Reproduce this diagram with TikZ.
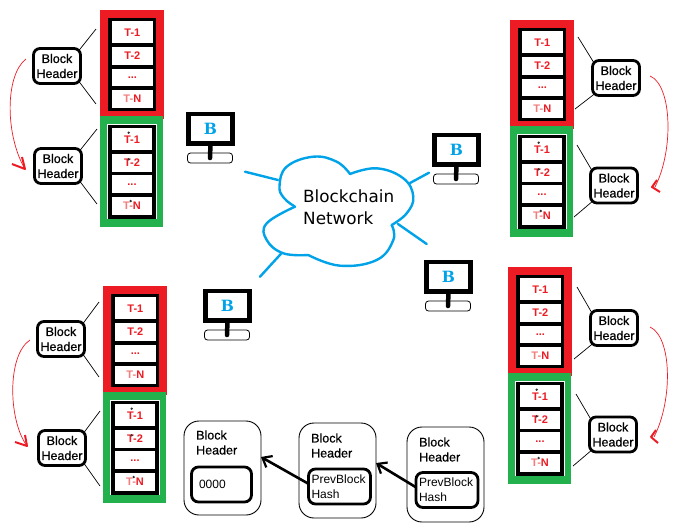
\documentclass[tikz,border=0pt]{standalone}
\usepackage{fontspec}
\setmainfont{Liberation Sans}
\newfontfamily\cloudfont{DejaVu Sans}
\newfontfamily\monfont{DejaVu Serif}
\newfontfamily\hdrfont[FakeBold=0.6]{Liberation Sans}
\usetikzlibrary{arrows.meta}
\definecolor{pred}{HTML}{ED1C24}
\definecolor{pgreen}{HTML}{22B14C}
\definecolor{pblue}{HTML}{00A2E8}
\definecolor{tpink}{HTML}{F47C7C}
\tikzset{
  rowbox/.style={draw=black,line width=3.2pt,fill=white,inner sep=0pt,outer sep=0pt,text=pred,font=\fontsize{11}{12}\selectfont\bfseries},
  hdr/.style={draw=black,line width=2.8pt,fill=white,rounded corners=6.5pt,minimum width=47pt,minimum height=35pt,inner sep=0pt,outer sep=0pt,align=center,font=\hdrfont\fontsize{12.5}{15}\selectfont},
  link/.style={black,line width=.7pt,shorten >=-2.5pt},
  hop/.style={pred,line width=.7pt},
  hopmark/.style={pred,line width=2pt,line join=round},
  dotmark/.style={fill=black!80,inner sep=0pt,minimum size=2.6pt,circle},
  screen/.style={draw=black,line width=4.5pt,fill=white,minimum width=44pt,minimum height=29.5pt,inner sep=0pt,outer sep=0pt,text=pblue,font=\monfont\fontsize{15.5}{16}\selectfont\bfseries},
  monbase/.style={draw=black,line width=.8pt,fill=white,rounded corners=3pt,minimum width=45pt,minimum height=10pt,inner sep=0pt,outer sep=0pt},
  monstand/.style={black,line width=4.5pt,line cap=round},
  cloudline/.style={pblue,line width=2.4pt,line join=round,line cap=round},
  outerbox/.style={draw=black,line width=.9pt,rounded corners=15pt,inner sep=0pt,outer sep=0pt},
  innerbox/.style={draw=black,line width=2.8pt,rounded corners=7pt,inner sep=0pt,outer sep=0pt,align=left,font=\fontsize{12}{15}\selectfont},
  boxtitle/.style={anchor=west,inner sep=0pt,align=left,font=\hdrfont\fontsize{12.5}{15}\selectfont},
  chainarrow/.style={black,line width=2.6pt,-{Straight Barb[length=8pt,width=13pt,line width=2.2pt]}},
}
\newcommand{\chainstack}[3]{%
  \begin{scope}[shift={(#2,#3)}]
    \fill[pred] (0,0) rectangle (64,109);
    \fill[pgreen] (0,106) rectangle (63,217);
    \node[rowbox,minimum width=44.7pt,minimum height=25.5pt] (#1a1) at (32.35,22.25) {T-1};
    \node[rowbox,minimum width=44.7pt,minimum height=22pt] (#1a2) at (32.35,46) {T-2};
    \node[rowbox,minimum width=44.7pt,minimum height=21pt] (#1a3) at (32.35,67.5) {...};
    \node[rowbox,minimum width=44.7pt,minimum height=21.5pt] (#1a4) at (32.35,88.75) {{\color{tpink}T-}N};
    \draw[white,line width=.9pt] (7.8,114.3) rectangle (56,208.7);
    \node[rowbox,minimum width=44pt,minimum height=25.5pt] (#1b1) at (32,129.25) {T-1};
    \node[rowbox,minimum width=44pt,minimum height=21.5pt] (#1b2) at (32,152.75) {T-2};
    \node[rowbox,minimum width=44pt,minimum height=21.5pt] (#1b3) at (32,174.25) {...};
    \node[rowbox,minimum width=44pt,minimum height=22pt] (#1b4) at (32,196) {{\color{tpink}T-}N};
    \node[dotmark] (#1d1) at (28.7,122.7) {};
    \node[dotmark] (#1d2) at (28.7,149.3) {};
    \node[dotmark] (#1d3) at (30.7,191) {};
  \end{scope}}
\newcommand{\computer}[3]{%
  \node[monbase] (#1base) at (#2+24,#3+46) {};
  \node[screen] (#1) at (#2+24.5,#3+16.8) {B};
  \draw[monstand] (#1.south) -- (#1base.center);}
\begin{document}
\begin{tikzpicture}[x=1pt,y=-1pt]
\useasboundingbox (0,0) rectangle (682,528);
% top left
\chainstack{tl}{100}{10}
\node[hdr] (tlh1) at (57,66) {Block\\Header};
\node[hdr] (tlh2) at (58,166) {Block\\Header};
\coordinate (tlp1) at (96,29); \coordinate (tlp2) at (96,104);
\coordinate (tlp3) at (97,129); \coordinate (tlp4) at (97,204);
\draw[link] (tlp1) -- (tlh1.north east);
\draw[link] (tlp2) -- (tlh1.south east);
\draw[link] (tlp3) -- (tlh2.north east);
\draw[link] (tlp4) -- (tlh2.south east);
\coordinate (tla) at (26,59); \coordinate (tlb) at (25,169);
\draw[hop] (tla) .. controls (5,75) and (5,135) .. (tlb);
\coordinate (tlc) at (12,164); \coordinate (tld) at (22,157);
\draw[hopmark] (tlc) -- (tlb) -- (tld);
% top right
\chainstack{tr}{510}{20}
\node[hdr] (trh1) at (616,78) {Block\\Header};
\node[hdr] (trh2) at (614,185.5) {Block\\Header};
\coordinate (trp1) at (578,37); \coordinate (trp2) at (575,109);
\coordinate (trp3) at (577,145); \coordinate (trp4) at (574,217);
\draw[link] (trp1) -- (trh1.north west);
\draw[link] (trp2) -- (trh1.south west);
\draw[link] (trp3) -- (trh2.north west);
\draw[link] (trp4) -- (trh2.south west);
\coordinate (tra) at (650,76); \coordinate (trb) at (655,187);
\draw[hop] (tra) .. controls (672,85) and (674,150) .. (trb);
\coordinate (trc) at (657,180); \coordinate (trd) at (652,187); \coordinate (tre) at (660,192);
\draw[hopmark] (trc) -- (trd) -- (tre);
% bottom left
\chainstack{bl}{103}{286}
\node[hdr] (blh1) at (61,339) {Block\\Header};
\node[hdr] (blh2) at (62,448) {Block\\Header};
\coordinate (blp1) at (99,302); \coordinate (blp2) at (99,377);
\coordinate (blp3) at (100,411); \coordinate (blp4) at (100,486);
\draw[link] (blp1) -- (blh1.north east);
\draw[link] (blp2) -- (blh1.south east);
\draw[link] (blp3) -- (blh2.north east);
\draw[link] (blp4) -- (blh2.south east);
\coordinate (bla) at (30,340); \coordinate (blb) at (27,446);
\draw[hop] (bla) .. controls (7,355) and (8,420) .. (blb);
\coordinate (blc) at (15,442); \coordinate (bld) at (25,435);
\draw[hopmark] (blc) -- (blb) -- (bld);
% bottom right
\chainstack{br}{508}{267}
\node[hdr] (brh1) at (614,328) {Block\\Header};
\node[hdr] (brh2) at (613,434.5) {Block\\Header};
\coordinate (brp1) at (577,287); \coordinate (brp2) at (574,359);
\coordinate (brp3) at (576,394); \coordinate (brp4) at (573,466);
\draw[link] (brp1) -- (brh1.north west);
\draw[link] (brp2) -- (brh1.south west);
\draw[link] (brp3) -- (brh2.north west);
\draw[link] (brp4) -- (brh2.south west);
\coordinate (bra) at (650,327); \coordinate (brb) at (654,437);
\draw[hop] (bra) .. controls (672,337) and (673,400) .. (brb);
\coordinate (brc) at (656,430); \coordinate (brd) at (651,437); \coordinate (bre) at (658,443);
\draw[hopmark] (brc) -- (brd) -- (bre);
% computers
\computer{ma}{186}{112}
\computer{mb}{432}{133}
\computer{mc}{203}{289}
\computer{md}{424}{260}
% cloud
\draw[cloudline] plot[smooth,tension=.7] coordinates {(295,206.7) (284,198) (279.5,186) (286.7,166.7) (313.3,156.7) (336.7,161.7) (350,174)};
\draw[cloudline] plot[smooth,tension=.7] coordinates {(350,174) (376.7,168.3) (403.3,178.3) (413.3,196.7) (406.7,213.3) (391.7,225)};
\draw[cloudline] plot[smooth,tension=.7] coordinates {(391.7,225) (393.3,240) (376.7,260) (340,265.7) (308.3,255)};
\draw[cloudline] plot[smooth,tension=.7] coordinates {(308.3,255) (283.3,253.3) (266.7,240) (266.7,223.3) (295,206.7)};
\node[inner sep=0pt,anchor=west,align=left,font=\cloudfont\fontsize{16.8}{21.7}\selectfont] (net) at (303,207) {Blockchain\\Network};
% spokes
\coordinate (sa1) at (245,171.7); \coordinate (sa2) at (278,180);
\coordinate (sb1) at (429,172.7); \coordinate (sb2) at (410,183);
\coordinate (sc1) at (260,276.7); \coordinate (sc2) at (281.7,253);
\coordinate (sd1) at (426.7,244); \coordinate (sd2) at (398,224);
\draw[cloudline] (sa1) -- (sa2);
\draw[cloudline] (sb1) -- (sb2);
\draw[cloudline] (sc1) -- (sc2);
\draw[cloudline] (sd1) -- (sd2);
% header chain
\node[outerbox,minimum width=77pt,minimum height=94pt] (ha) at (222.5,468) {};
\node[outerbox,minimum width=77pt,minimum height=95pt] (hb) at (337.5,470.5) {};
\node[outerbox,minimum width=77pt,minimum height=95pt] (hc) at (445.5,474.5) {};
\node[boxtitle] (ta) at (196,442.5) {Block\\Header};
\node[boxtitle] (tb) at (311,445.5) {Block\\Header};
\node[boxtitle] (tc) at (419,449.5) {Block\\Header};
\node[innerbox,minimum width=60pt,minimum height=35pt,text width=45pt] (ia) at (221.5,484.5) {0000};
\node[innerbox,minimum width=62pt,minimum height=35pt,text width=56pt] (ib) at (339.5,486.5) {PrevBlock\\Hash};
\node[innerbox,minimum width=62pt,minimum height=35pt,text width=56pt] (ic) at (447,490) {PrevBlock\\Hash};
\draw[chainarrow] (ib.175) -- (ha.16);
\draw[chainarrow] (ic.175) -- (hb.11);
\end{tikzpicture}
\end{document}
